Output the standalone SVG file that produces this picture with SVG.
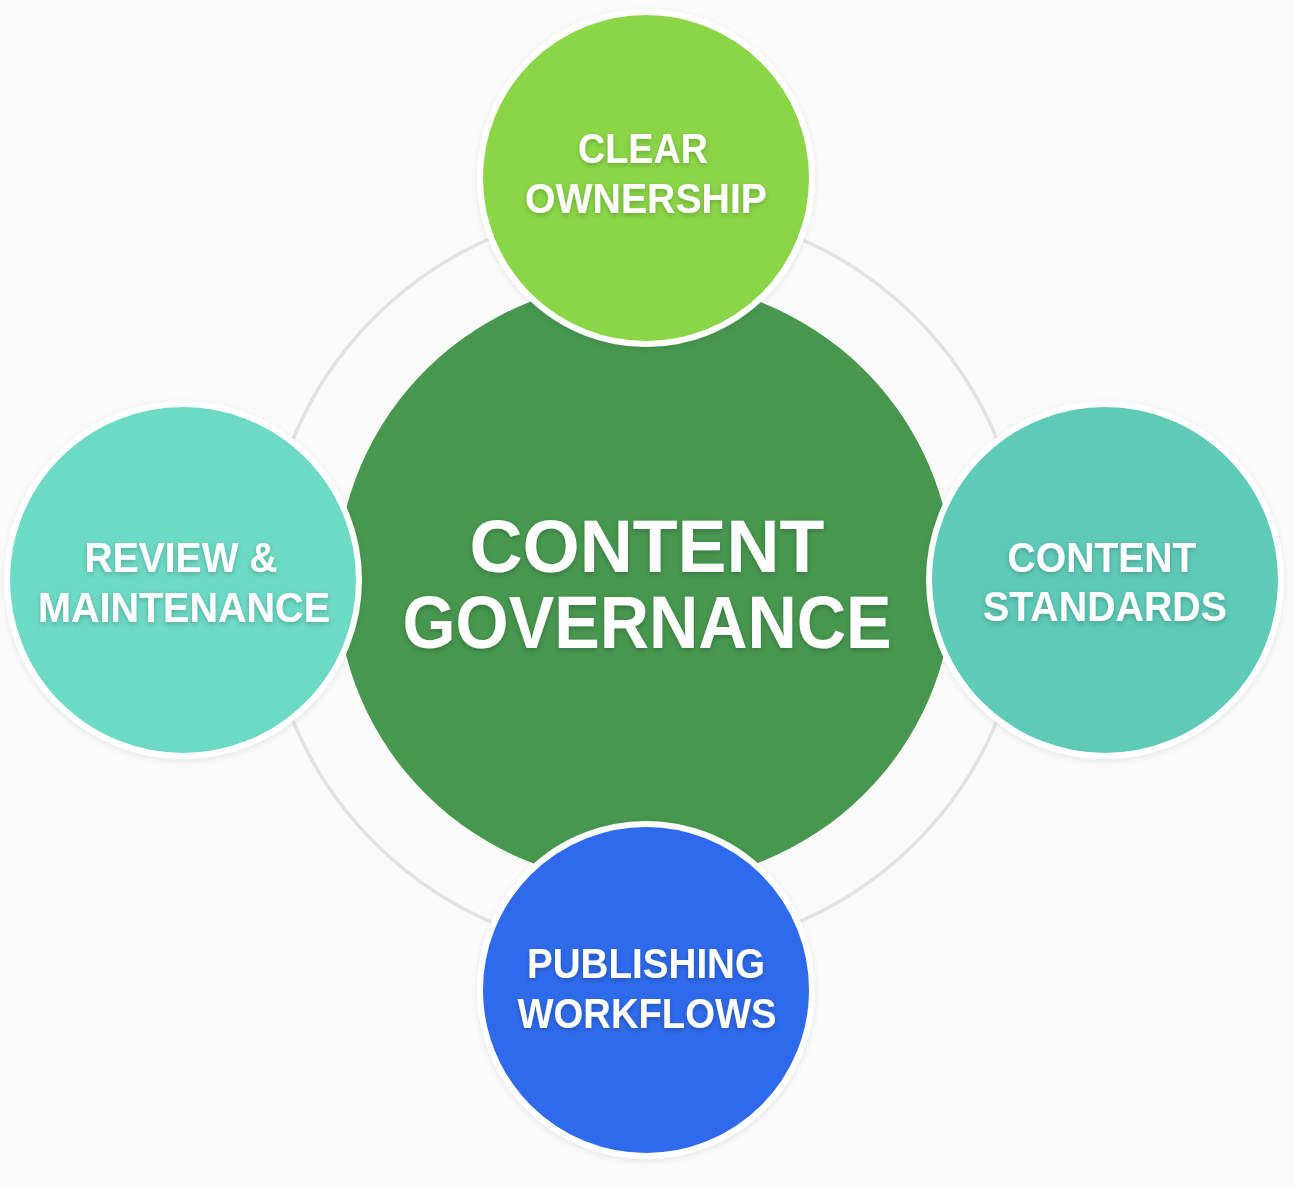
<svg xmlns="http://www.w3.org/2000/svg" width="1294" height="1186" viewBox="0 0 1294 1186">
  <defs>
    <filter id="tshadow" x="-10%" y="-30%" width="120%" height="160%">
      <feDropShadow dx="0" dy="2" stdDeviation="2.5" flood-color="#000" flood-opacity="0.22"/>
    </filter>
    <filter id="cshadow" x="-10%" y="-10%" width="120%" height="120%">
      <feDropShadow dx="0" dy="2" stdDeviation="3" flood-color="#000" flood-opacity="0.08"/>
    </filter>
  </defs>
  <style>
    .lbl { font-family: "Liberation Sans", Arial, sans-serif; font-weight: 700; fill: #ffffff; text-anchor: middle; filter: url(#tshadow); }
    .sat { font-size: 42px; }
    .main { font-size: 74px; }
    .satc { stroke: #ffffff; stroke-width: 6; filter: url(#cshadow); }
    .ring { fill: none; stroke: #e2e2e2; stroke-width: 3.5; }
  </style>
  <rect x="0" y="0" width="1294" height="1186" fill="#fafafa"/>

  <g id="connectors">
    <ellipse class="ring" cx="645" cy="580" rx="380" ry="374"/>
  </g>

  <g id="content-governance">
    <ellipse cx="645" cy="582" rx="308" ry="302" fill="#47974f"/>
    <text class="lbl main"><tspan x="647" y="572" textLength="355" lengthAdjust="spacingAndGlyphs">CONTENT</tspan><tspan x="647" y="648" textLength="489" lengthAdjust="spacingAndGlyphs">GOVERNANCE</tspan></text>
  </g>

  <g id="clear-ownership">
    <circle class="satc" cx="646" cy="178" r="166" fill="#8bd646"/>
    <text class="lbl sat"><tspan x="643" y="163" textLength="130" lengthAdjust="spacingAndGlyphs">CLEAR</tspan><tspan x="646" y="213" textLength="242" lengthAdjust="spacingAndGlyphs">OWNERSHIP</tspan></text>
  </g>

  <g id="review-maintenance">
    <circle class="satc" cx="183" cy="580" r="176" fill="#6ddac5"/>
    <text class="lbl sat"><tspan x="181" y="572" textLength="193" lengthAdjust="spacingAndGlyphs">REVIEW &amp;</tspan><tspan x="184" y="622" textLength="292" lengthAdjust="spacingAndGlyphs">MAINTENANCE</tspan></text>
  </g>

  <g id="content-standards">
    <circle class="satc" cx="1105" cy="580" r="176" fill="#5ecab8"/>
    <text class="lbl sat"><tspan x="1102" y="572" textLength="189" lengthAdjust="spacingAndGlyphs">CONTENT</tspan><tspan x="1105" y="621" textLength="244" lengthAdjust="spacingAndGlyphs">STANDARDS</tspan></text>
  </g>

  <g id="publishing-workflows">
    <circle class="satc" cx="646" cy="990" r="166" fill="#2d6beb"/>
    <text class="lbl sat"><tspan x="646" y="978" textLength="238" lengthAdjust="spacingAndGlyphs">PUBLISHING</tspan><tspan x="647" y="1028" textLength="259" lengthAdjust="spacingAndGlyphs">WORKFLOWS</tspan></text>
  </g>
</svg>
